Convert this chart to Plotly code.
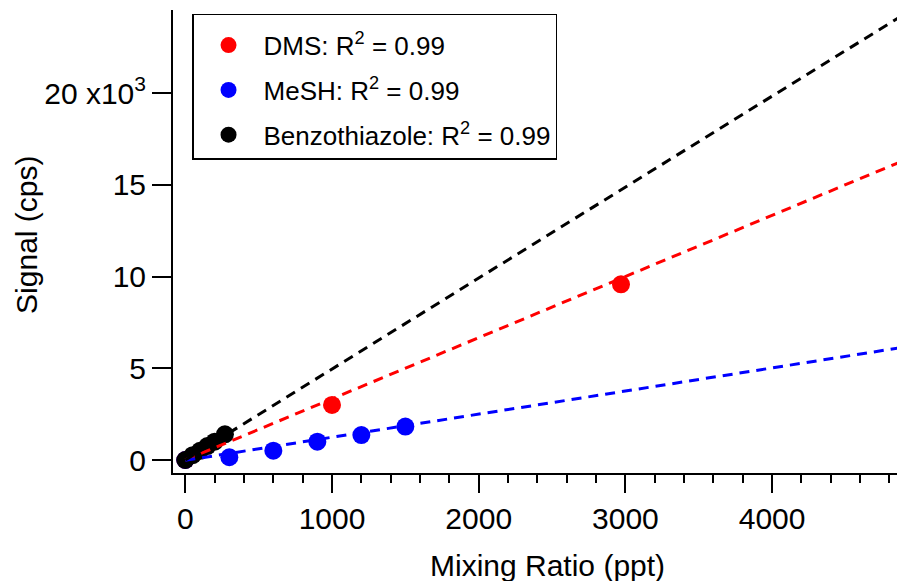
import plotly.graph_objects as go

# ---- data ----
dms_x = [0, 1000, 2970, 4940]
dms_y = [0, 3000, 9580, 16480]

mesh_x = [0, 300, 600, 900, 1200, 1500]
mesh_y = [0, 150, 510, 1000, 1360, 1820]

bzt_x = [0, 50, 100, 150, 200, 270]
bzt_y = [0, 260, 500, 760, 1000, 1400]

series_names = ["DMS", "MeSH", "Benzothiazole"]
r_squared = [0.99, 0.99, 0.99]
fit_slopes = [3.335, 1.26, 4.96]
fit_intercepts = [0.0, -20.0, 0.0]
fit_x_span = [0, 5200]

x_tickvals = [0, 1000, 2000, 3000, 4000]
x_ticktext = ["0", "1000", "2000", "3000", "4000"]
y_tickvals = [0, 5000, 10000, 15000, 20000]
y_ticktext = ["0", "5", "10", "15", "20 x10<sup>3</sup>"]

colors = ["#ff0000", "#0000ff", "#000000"]
FONT = "Liberation Sans, Arial, sans-serif"

fig = go.Figure()

xs = [dms_x, mesh_x, bzt_x]
ys = [dms_y, mesh_y, bzt_y]
groups = ["a", "b", "c"]

for name, x, y, c, r2, g in zip(series_names, xs, ys, colors, r_squared, groups):
    fig.add_trace(go.Scatter(
        x=x, y=y, mode="markers",
        marker=dict(color=c, size=18, line=dict(width=0)),
        name=f"{name}: R<sup>2</sup> = {r2:.2f}",
        legendgroup=g,
    ))

for name, c, m, b, g in zip(series_names, colors, fit_slopes, fit_intercepts, groups):
    fx = list(fit_x_span)
    fy = [m * v + b for v in fx]
    fig.add_trace(go.Scatter(
        x=fx, y=fy, mode="lines",
        line=dict(color=c, width=3, dash="10px,7px"),
        showlegend=False, legendgroup=g, hoverinfo="skip",
    ))

fig.update_layout(
    width=897, height=573,
    margin=dict(l=165, r=0, t=2, b=108),
    paper_bgcolor="white", plot_bgcolor="white",
    font=dict(family=FONT, color="black"),
    showlegend=True,
    legend=dict(
        x=0.026, y=0.992, xanchor="left", yanchor="top",
        bordercolor="black", borderwidth=1.5, bgcolor="white",
        font=dict(family=FONT, size=26, color="black"),
        itemwidth=60, tracegroupgap=8, traceorder="grouped",
        title=dict(text="&#8203;", font=dict(family=FONT, size=5)),
    ),
    xaxis=dict(
        range=[-84, 4906], showgrid=False, zeroline=False,
        showline=True, linecolor="black", linewidth=2,
        ticks="outside", ticklen=18, tickwidth=2, tickcolor="black",
        tickvals=x_tickvals, ticktext=x_ticktext,
        tickfont=dict(family=FONT, size=30, color="black"),
        minor=dict(dtick=200, tick0=0, ticks="outside", ticklen=8,
                   tickwidth=2, tickcolor="black", showgrid=False),
    ),
    yaxis=dict(
        range=[-709, 24537], showgrid=False, zeroline=False,
        showline=True, linecolor="black", linewidth=2,
        ticks="outside", ticklen=19, tickwidth=2, tickcolor="black",
        tickvals=y_tickvals, ticktext=y_ticktext,
        tickfont=dict(family=FONT, size=30, color="black"),
    ),
    annotations=[
        dict(text="Mixing Ratio (ppt)", xref="paper", yref="paper",
             x=0.512, y=-0.199, xanchor="center", yanchor="middle",
             showarrow=False, font=dict(family=FONT, size=30, color="black")),
        dict(text="Signal (cps)", xref="paper", yref="paper",
             x=-0.201, y=0.514, xanchor="center", yanchor="middle",
             textangle=-90, showarrow=False,
             font=dict(family=FONT, size=30, color="black")),
    ],
)

fig.write_html("out.html")
